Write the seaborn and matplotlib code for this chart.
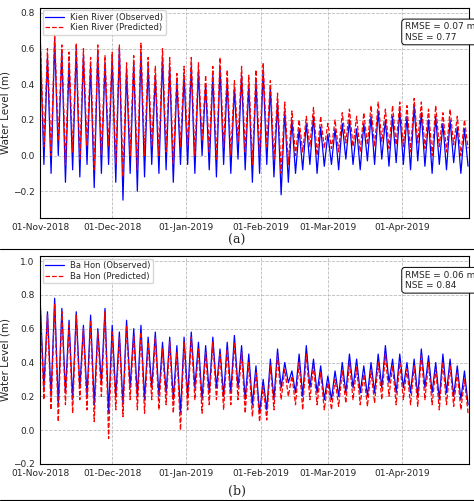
import numpy as np
import pandas as pd
import seaborn as sns
import matplotlib
matplotlib.use("Agg")
import matplotlib.pyplot as plt
import matplotlib.dates as mdates

# highs / lows, one pair every 3 days from 01-Nov-2018
a_obs_hi = [0.62,0.55,0.65,0.58,0.52,0.60,0.56,0.50,0.58,0.52,
            0.55,0.60,0.48,0.52,0.58,0.50,0.45,0.55,0.50,0.42,
            0.45,0.50,0.48,0.40,0.45,0.50,0.42,0.38,0.45,0.40,
            0.42,0.48,0.38,0.30,0.25,0.20,0.15,0.18,0.22,0.16,
            0.12,0.15,0.18,0.20,0.15,0.18,0.22,0.25,0.20,0.22,
            0.25,0.22,0.28,0.24,0.20,0.22,0.18,0.20,0.16,0.15]
a_obs_lo = [-0.05,-0.10,0.00,-0.15,-0.08,-0.12,-0.05,-0.18,-0.10,-0.05,
            -0.15,-0.25,-0.10,-0.20,-0.12,-0.05,-0.10,-0.08,-0.15,-0.05,
            -0.05,-0.10,0.00,-0.08,-0.12,-0.05,-0.10,-0.02,-0.08,-0.15,
            -0.10,-0.05,-0.12,-0.22,-0.15,-0.10,-0.08,-0.05,-0.10,-0.06,
            -0.05,-0.08,-0.02,-0.05,-0.08,-0.03,-0.05,-0.02,-0.06,-0.04,
            -0.05,-0.08,-0.03,-0.06,-0.10,-0.05,-0.08,-0.04,-0.10,-0.06]
a_pred_hi = [0.66,0.60,0.68,0.62,0.58,0.63,0.60,0.55,0.62,0.56,
             0.58,0.62,0.52,0.56,0.63,0.55,0.50,0.60,0.55,0.46,
             0.50,0.55,0.52,0.45,0.50,0.55,0.48,0.42,0.50,0.45,
             0.48,0.52,0.42,0.35,0.30,0.25,0.20,0.22,0.27,0.22,
             0.18,0.20,0.24,0.26,0.22,0.24,0.28,0.30,0.26,0.28,
             0.30,0.28,0.32,0.30,0.26,0.28,0.24,0.26,0.22,0.20]
a_pred_lo = [0.05,0.00,0.08,-0.05,0.02,-0.02,0.05,-0.08,0.00,0.05,
             -0.05,-0.12,0.00,-0.08,0.00,0.05,0.00,0.02,-0.05,0.05,
             0.05,0.00,0.08,0.02,-0.02,0.05,0.00,0.08,0.02,-0.05,
             0.00,0.05,-0.02,-0.10,-0.05,0.00,0.02,0.05,0.00,0.04,
             0.04,0.02,0.07,0.05,0.02,0.06,0.05,0.08,0.04,0.06,
             0.05,0.02,0.07,0.04,0.00,0.05,0.02,0.06,0.00,0.04]

b_obs_hi = [0.75,0.70,0.78,0.72,0.65,0.70,0.62,0.68,0.60,0.72,
            0.62,0.58,0.65,0.60,0.62,0.55,0.58,0.52,0.55,0.50,
            0.55,0.58,0.52,0.50,0.55,0.48,0.52,0.56,0.50,0.45,
            0.38,0.30,0.42,0.48,0.40,0.35,0.45,0.50,0.42,0.38,
            0.32,0.35,0.40,0.45,0.42,0.38,0.40,0.45,0.50,0.42,
            0.45,0.40,0.42,0.48,0.44,0.40,0.45,0.42,0.38,0.35]
b_obs_lo = [0.25,0.20,0.15,0.22,0.18,0.25,0.20,0.15,0.28,0.10,
            0.20,0.15,0.25,0.20,0.18,0.25,0.20,0.22,0.18,0.10,
            0.20,0.25,0.18,0.22,0.25,0.20,0.22,0.25,0.18,0.15,
            0.10,0.12,0.18,0.25,0.28,0.22,0.20,0.25,0.22,0.18,
            0.18,0.20,0.22,0.25,0.22,0.20,0.22,0.25,0.28,0.22,
            0.25,0.22,0.20,0.25,0.22,0.18,0.22,0.20,0.18,0.15]
b_pred_hi = [0.72,0.68,0.75,0.70,0.62,0.68,0.60,0.65,0.58,0.70,
             0.58,0.55,0.62,0.56,0.58,0.52,0.55,0.48,0.52,0.46,
             0.52,0.55,0.48,0.46,0.52,0.45,0.48,0.52,0.46,0.40,
             0.34,0.26,0.38,0.44,0.36,0.32,0.40,0.45,0.38,0.34,
             0.28,0.30,0.35,0.40,0.37,0.33,0.35,0.40,0.45,0.38,
             0.40,0.36,0.38,0.44,0.40,0.36,0.40,0.38,0.34,0.30]
b_pred_lo = [0.18,0.12,0.05,0.15,0.10,0.18,0.12,0.05,0.20,-0.05,
             0.12,0.08,0.18,0.12,0.10,0.18,0.12,0.15,0.10,0.00,
             0.12,0.18,0.10,0.15,0.18,0.12,0.15,0.18,0.10,0.08,
             0.05,0.06,0.12,0.18,0.20,0.15,0.12,0.18,0.15,0.12,
             0.12,0.14,0.16,0.18,0.15,0.14,0.16,0.18,0.20,0.15,
             0.18,0.15,0.14,0.18,0.15,0.12,0.15,0.14,0.12,0.10]

panels = [
    ("Kien River", a_obs_hi, a_obs_lo, a_pred_hi, a_pred_lo, "RMSE = 0.07 m\nNSE = 0.77", (-0.35, 0.83), "(a)"),
    ("Ba Hon", b_obs_hi, b_obs_lo, b_pred_hi, b_pred_lo, "RMSE = 0.06 m\nNSE = 0.84", (-0.2, 1.03), "(b)"),
]

sns.set_style("whitegrid")
plt.rcParams['font.family'] = ['DejaVu Sans']

times = pd.date_range("2018-11-01", periods=120, freq="36h")

fig = plt.figure(figsize=(4.74, 5.01), dpi=100)
boxes = [[0.085, 0.565, 0.905, 0.42], [0.085, 0.074, 0.905, 0.415]]
caption_y = [0.52, 0.02]

for (name, ohi, olo, phi, plo, stats, ylim, cap), box, cy in zip(panels, boxes, caption_y):
    ax = fig.add_axes(box)
    obs = np.column_stack([ohi, olo]).ravel()
    pred = np.column_stack([phi, plo]).ravel()
    sns.lineplot(x=times, y=obs, ax=ax, color="blue", lw=0.9, label=f"{name} (Observed)")
    sns.lineplot(x=times, y=pred, ax=ax, color="red", lw=0.9, linestyle="--", label=f"{name} (Predicted)")
    ax.set_xlim(pd.Timestamp("2018-11-01"), pd.Timestamp("2019-04-29"))
    ax.set_ylim(*ylim)
    ax.xaxis.set_major_locator(mdates.MonthLocator())
    ax.xaxis.set_major_formatter(mdates.DateFormatter("%d-%b-%Y"))
    ax.grid(True, linestyle="--", color="#bbbbbb", lw=0.6)
    for s in ax.spines.values():
        s.set_edgecolor("black")
        s.set_linewidth(0.8)
    ax.tick_params(labelsize=6.5, length=2, pad=2)
    ax.set_xlabel("")
    ax.set_ylabel("Water Level (m)", fontsize=7.5, labelpad=2)
    ax.legend(loc="upper left", fontsize=6, frameon=True, borderpad=0.3, handlelength=2.2,
              labelspacing=0.2, borderaxespad=0.3)
    ax.text(0.85, 0.93, stats, transform=ax.transAxes, ha="left", va="top", fontsize=6.5,
            bbox=dict(boxstyle="round,pad=0.35", fc="white", ec="black", lw=0.7))
    fig.text(0.5, cy, cap, ha="center", va="center", fontsize=9, family="serif")

for y in [0.502, 0.002]:
    fig.add_artist(plt.Line2D([0.0, 1.0], [y, y], color="black", lw=0.8))

fig.savefig("out.png", dpi=100)
